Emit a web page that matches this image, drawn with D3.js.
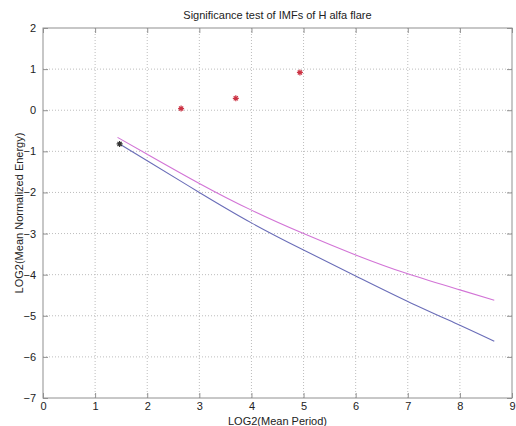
<!DOCTYPE html>
<html><head><meta charset="utf-8">
<script src="https://cdn.jsdelivr.net/npm/d3@7"></script>
<style>body{margin:0;background:#fff;}svg{display:block;font-family:"Liberation Sans",Arial,sans-serif;}</style>
</head><body>
<svg id="c" width="516" height="426"></svg>
<script>
const title = "Significance test of IMFs of H alfa flare";
const xLabel = "LOG2(Mean Period)";
const yLabel = "LOG2(Mean Normalized Energy)";
const xTicks = [0,1,2,3,4,5,6,7,8,9];
const yTicks = [2,1,0,-1,-2,-3,-4,-5,-6,-7];
// IMF points
const imfX = [1.47, 2.65, 3.70, 4.93];
const imfY = [-0.82, 0.04, 0.29, 0.92];
// significance lines
const blueX = [1.47, 2, 3, 4, 5, 6, 7, 8, 8.66];
const blueY = [-0.82, -1.23, -2.0, -2.74, -3.4, -4.03, -4.65, -5.23, -5.62];
const magX = [1.43, 2, 3, 4, 5, 6, 7, 8, 8.66];
const magY = [-0.66, -1.07, -1.78, -2.43, -3.0, -3.52, -3.98, -4.37, -4.62];

const L=43, R=512, T=28, B=398;
const svg = d3.select("#c");
const x = d3.scaleLinear().domain([0,9]).range([L,R]);
const y = d3.scaleLinear().domain([-7,2]).range([B,T]);

// grid
const g = svg.append("g");
g.selectAll(".gx").data(xTicks.slice(1,-1)).enter().append("line")
  .attr("x1",d=>x(d)).attr("x2",d=>x(d)).attr("y1",T).attr("y2",B)
  .attr("stroke","#bdbdbd").attr("stroke-width",1).attr("stroke-dasharray","1,2");
g.selectAll(".gy").data(yTicks.slice(1,-1)).enter().append("line")
  .attr("y1",d=>y(d)).attr("y2",d=>y(d)).attr("x1",L).attr("x2",R)
  .attr("stroke","#bdbdbd").attr("stroke-width",1).attr("stroke-dasharray","1,2");

// axes
const ax = d3.axisBottom(x).tickValues(xTicks).tickSize(-5).tickPadding(4).tickFormat(d3.format("d"));
const axT = d3.axisTop(x).tickValues(xTicks).tickSize(-5).tickFormat("");
const ay = d3.axisLeft(y).tickValues(yTicks).tickSize(-5).tickPadding(7).tickFormat(d3.format("d"));
const ayR = d3.axisRight(y).tickValues(yTicks).tickSize(-5).tickFormat("");
function style(sel){
  sel.select(".domain").remove();
  sel.selectAll("line").attr("stroke","#909090");
  sel.selectAll("text").attr("fill","#222").style("font-size","11px").style("font-family",'"Liberation Sans",Arial,sans-serif');
}
svg.append("g").attr("transform",`translate(0,${B})`).call(ax).call(style);
svg.append("g").attr("transform",`translate(0,${T})`).call(axT).call(style);
svg.append("g").attr("transform",`translate(${L},0)`).call(ay).call(style);
svg.append("g").attr("transform",`translate(${R},0)`).call(ayR).call(style);
svg.append("rect").attr("x",L).attr("y",T).attr("width",R-L).attr("height",B-T)
  .attr("fill","none").attr("stroke","#909090").attr("stroke-width",1);

// lines
const line = d3.line().x(d=>x(d[0])).y(d=>y(d[1])).curve(d3.curveNatural);
svg.append("path").datum(blueX.map((v,i)=>[v,blueY[i]])).attr("d",line)
  .attr("fill","none").attr("stroke","#6a6db8").attr("stroke-width",1.1);
svg.append("path").datum(magX.map((v,i)=>[v,magY[i]])).attr("d",line)
  .attr("fill","none").attr("stroke","#d274d6").attr("stroke-width",1.1);

// star markers
function star(cx,cy,r){
  const a=r*0.7;
  return `M${cx-r},${cy}L${cx+r},${cy}M${cx},${cy-r}L${cx},${cy+r}M${cx-a},${cy-a}L${cx+a},${cy+a}M${cx-a},${cy+a}L${cx+a},${cy-a}`;
}
svg.selectAll(".st").data(imfX.map((v,i)=>[v,imfY[i],i])).enter().append("path")
  .attr("d",d=>star(x(d[0]),y(d[1]),3))
  .attr("stroke",d=>d[2]===0?"#333":"#cc3344").attr("stroke-width",1.2).attr("fill","none");

// texts
svg.append("text").attr("x",(L+R)/2).attr("y",19).attr("text-anchor","middle")
  .style("font-size","11px").attr("fill","#222").text(title);
svg.append("text").attr("x",(L+R)/2).attr("y",425).attr("text-anchor","middle")
  .style("font-size","11px").attr("fill","#222").text(xLabel);
svg.append("text").attr("transform",`translate(23,${(T+B)/2}) rotate(-90)`).attr("text-anchor","middle")
  .style("font-size","11px").attr("fill","#222").text(yLabel);
</script>
</body></html>
